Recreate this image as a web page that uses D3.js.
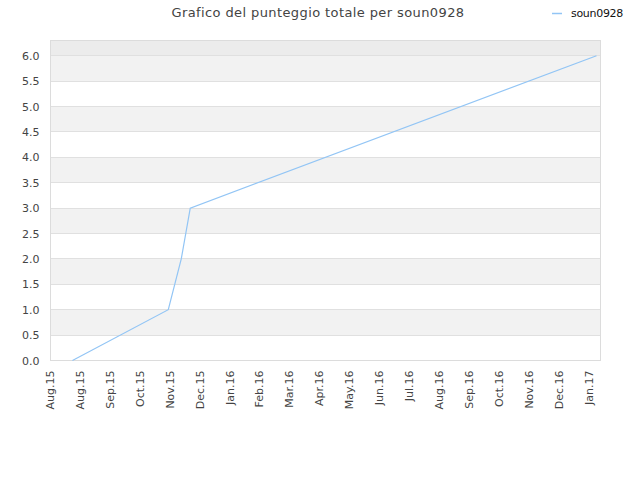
<!DOCTYPE html>
<html>
<head>
<meta charset="utf-8">
<script src="https://cdn.jsdelivr.net/npm/d3@7"></script>
<style>
  body { margin: 0; background: #fff; }
  text { font-family: "DejaVu Sans", sans-serif; }
</style>
</head>
<body>
<div id="chart"></div>
<script>
// data
const dates = ['2015-08-23', '2015-11-27', '2015-12-10', '2015-12-19', '2017-01-29'];
const scores = [0, 1, 2, 3, 6];
const tickDates = ['2015-08-01', '2015-08-31', '2015-09-30', '2015-10-30', '2015-11-29',
  '2015-12-29', '2016-01-28', '2016-02-27', '2016-03-28', '2016-04-27', '2016-05-27',
  '2016-06-26', '2016-07-26', '2016-08-25', '2016-09-24', '2016-10-24', '2016-11-23',
  '2016-12-23', '2017-01-22'];
const yTicks = [0, 0.5, 1, 1.5, 2, 2.5, 3, 3.5, 4, 4.5, 5, 5.5, 6];
const xDomain = ['2015-08-01', '2017-02-02'];
const yMax = 6.3;
const seriesName = 'soun0928';
const title = 'Grafico del punteggio totale per soun0928';

const width = 640, height = 480;
const m = { left: 50.5, right: 39.5, top: 40.5, bottom: 119.5 };
const parse = d3.timeParse('%Y-%m-%d');
const fmt = d3.timeFormat('%b.%y');

const svg = d3.select('#chart').append('svg')
  .attr('width', width)
  .attr('height', height);

const x = d3.scaleTime()
  .domain(xDomain.map(parse))
  .range([m.left, width - m.right]);
const y = d3.scaleLinear()
  .domain([0, yMax])
  .range([height - m.bottom, m.top]);

const plotW = x.range()[1] - m.left;

// background bands
svg.append('rect')
  .attr('x', m.left).attr('y', y(yMax))
  .attr('width', plotW)
  .attr('height', y(6) - y(yMax))
  .attr('fill', '#ececec');

svg.append('g').selectAll('rect')
  .data(yTicks.filter(v => (v * 2) % 2 === 1))
  .enter().append('rect')
  .attr('x', m.left)
  .attr('y', d => y(d + 0.5))
  .attr('width', plotW)
  .attr('height', d => y(d) - y(d + 0.5))
  .attr('fill', '#f2f2f2');

// grid
svg.append('g').selectAll('line')
  .data(yTicks)
  .enter().append('line')
  .attr('x1', m.left).attr('x2', x.range()[1])
  .attr('y1', d => Math.floor(y(d)) + 0.5)
  .attr('y2', d => Math.floor(y(d)) + 0.5)
  .attr('stroke', '#e0e0e0');

// frame
svg.append('rect')
  .attr('x', m.left).attr('y', m.top)
  .attr('width', plotW)
  .attr('height', y(0) - m.top)
  .attr('fill', 'none')
  .attr('stroke', '#dcdcdc');

// y axis
const yAxis = svg.append('g')
  .attr('transform', `translate(${m.left},0)`)
  .call(d3.axisLeft(y).tickValues(yTicks).tickFormat(d3.format('.1f')).tickSize(0).tickPadding(11));
yAxis.select('.domain').remove();
yAxis.selectAll('text')
  .attr('fill', '#444')
  .style('font-size', '11px');

// x axis
const xAxis = svg.append('g')
  .attr('transform', `translate(0,${y(0)})`)
  .call(d3.axisBottom(x).tickValues(tickDates.map(parse)).tickFormat(fmt).tickSize(0));
xAxis.select('.domain').remove();
xAxis.selectAll('text')
  .attr('fill', '#444')
  .style('font-size', '11px')
  .attr('text-anchor', 'end')
  .attr('transform', 'rotate(-90)')
  .attr('x', -10)
  .attr('y', -1)
  .attr('dy', '0.35em');

// line
const line = d3.line()
  .x((d, i) => x(parse(dates[i])))
  .y(d => y(d));

svg.append('path')
  .datum(scores)
  .attr('d', line)
  .attr('fill', 'none')
  .attr('stroke', '#92c5f5')
  .attr('stroke-width', 1.2);

// title
svg.append('text')
  .attr('x', 318)
  .attr('y', 17)
  .attr('text-anchor', 'middle')
  .attr('fill', '#444')
  .style('font-size', '13px')
  .style('letter-spacing', '0.4px')
  .text(title);

// legend
svg.append('line')
  .attr('x1', 552).attr('x2', 562)
  .attr('y1', 13.5).attr('y2', 13.5)
  .attr('stroke', '#92c5f5')
  .attr('stroke-width', 1.5);
svg.append('text')
  .attr('x', 571)
  .attr('y', 17)
  .attr('fill', '#111')
  .style('font-size', '11px')
  .style('letter-spacing', '-0.3px')
  .text(seriesName);
</script>
</body>
</html>
